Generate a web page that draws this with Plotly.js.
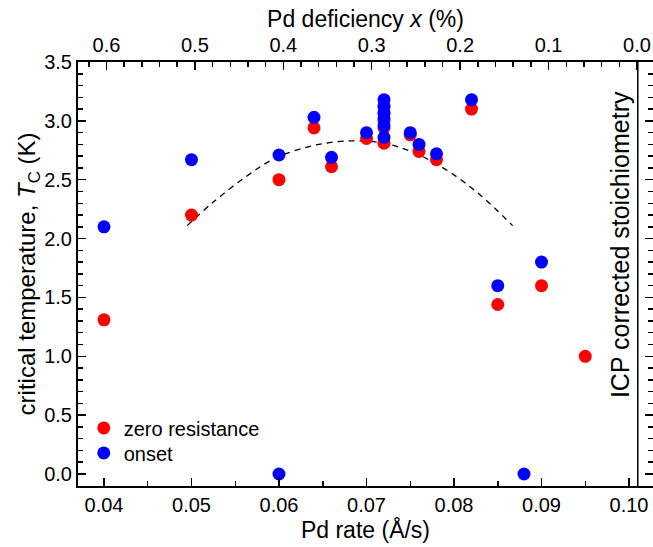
<!DOCTYPE html>
<html><head><meta charset="utf-8">
<script src="https://cdn.plot.ly/plotly-3.0.1.min.js"></script>
<style>html,body{margin:0;padding:0;background:#fff}</style>
</head><body><div id="chart" style="width:653px;height:547px"></div>
<script>
// Pd rate (Å/s) and critical temperature (K)
const zeroX = [0.040, 0.050, 0.060, 0.064, 0.066, 0.070, 0.072, 0.072, 0.072, 0.072, 0.072, 0.075, 0.076, 0.078, 0.082, 0.085, 0.090, 0.095];
const zeroY = [1.31, 2.20, 2.50, 2.94, 2.61, 2.85, 3.13, 3.06, 3.00, 2.94, 2.81, 2.88, 2.74, 2.67, 3.10, 1.44, 1.60, 1.00];
const onsetX = [0.040, 0.050, 0.060, 0.060, 0.064, 0.066, 0.070, 0.072, 0.072, 0.072, 0.072, 0.072, 0.072, 0.075, 0.076, 0.078, 0.082, 0.085, 0.088, 0.090];
const onsetY = [2.10, 2.67, 2.71, 0.00, 3.03, 2.69, 2.90, 3.18, 3.12, 3.07, 3.02, 2.96, 2.86, 2.90, 2.80, 2.72, 3.18, 1.60, 0.00, 1.80];
// dashed guide curve
const fitX = [0.0495, 0.0525, 0.0563, 0.0595, 0.0639, 0.0681, 0.0720, 0.0754, 0.0792, 0.0830, 0.0867];
const fitY = [2.11, 2.31, 2.53, 2.68, 2.79, 2.83, 2.81, 2.73, 2.58, 2.37, 2.11];
// ICP corrected stoichiometry position
const icpRate = 0.101;
const bottomTicks = [0.04, 0.05, 0.06, 0.07, 0.08, 0.09, 0.10];
const bottomTickText = ['0.04', '0.05', '0.06', '0.07', '0.08', '0.09', '0.10'];
const topTicks = [0.6, 0.5, 0.4, 0.3, 0.2, 0.1, 0.0];
const topTickText = ['0.6', '0.5', '0.4', '0.3', '0.2', '0.1', '0.0'];

const FONT = 'Liberation Sans, Arial, sans-serif';

const traces = [
  {x: fitX, y: fitY, mode: 'lines', line: {color: '#000', width: 1.3, dash: '6px,5px', shape: 'spline'}, showlegend: false, hoverinfo: 'skip'},
  {x: zeroX, y: zeroY, mode: 'markers', name: 'zero resistance', legend: 'legend', marker: {color: '#ff0000', size: 13}},
  {x: onsetX, y: onsetY, mode: 'markers', name: 'onset', legend: 'legend2', marker: {color: '#0000ff', size: 13}},
  {x: [0.5], y: [null], xaxis: 'x2', yaxis: 'y', mode: 'markers', showlegend: false, hoverinfo: 'skip'}
];

const axCommon = {
  showline: true, linecolor: '#000', linewidth: 2,
  ticks: 'inside', ticklen: 8, tickwidth: 1.5, tickcolor: '#000',
  showgrid: false, zeroline: false,
  tickfont: {family: FONT, size: 20, color: '#000'}
};

const legendCommon = {x: 0.01, xanchor: 'left', yanchor: 'top', bgcolor: 'rgba(0,0,0,0)', font: {family: FONT, size: 20, color: '#000'}, itemwidth: 30};

const layout = {
  width: 653, height: 547,
  margin: {l: 78, r: 0, t: 62, b: 61},
  paper_bgcolor: '#fff', plot_bgcolor: '#fff',
  font: {family: FONT, color: '#000'},
  showlegend: true,
  legend: Object.assign({}, legendCommon, {y: 0.183}),
  legend2: Object.assign({}, legendCommon, {y: 0.124}),
  xaxis: Object.assign({}, axCommon, {
    range: [0.03703, 0.10274], tickvals: bottomTicks, ticktext: bottomTickText,
    minor: {dtick: 0.005, ticks: 'inside', ticklen: 5, tickwidth: 1.5, tickcolor: '#000'},
    title: {text: 'Pd rate (Å/s)', font: {family: FONT, size: 23, color: '#000'}, standoff: 0}
  }),
  xaxis2: Object.assign({}, axCommon, {
    overlaying: 'x', side: 'top', anchor: 'y',
    range: [0.6322, -0.0181], tickvals: topTicks, ticktext: topTickText,
    minor: {dtick: 0.02, ticks: 'inside', ticklen: 5, tickwidth: 1.5, tickcolor: '#000'},
    title: {text: 'Pd deficiency <i>x</i> (%)', font: {family: FONT, size: 23, color: '#000'}, standoff: 0}
  }),
  yaxis: Object.assign({}, axCommon, {
    range: [-0.102, 3.5], dtick: 0.5, tick0: 0, tickformat: '.1f', mirror: 'ticks',
    minor: {dtick: 0.1, ticks: 'inside', ticklen: 5, tickwidth: 1.5, tickcolor: '#000'},
    title: {text: 'critical temperature, <i>T</i><sub>C</sub> (K)', font: {family: FONT, size: 24, color: '#000'}, standoff: 2}
  }),
  shapes: [
    {type: 'line', xref: 'x', yref: 'paper', x0: icpRate, x1: icpRate, y0: 0, y1: 1, line: {color: '#000', width: 1.5}}
  ],
  annotations: [
    {xref: 'x', yref: 'paper', x: icpRate, y: 0.57, xanchor: 'right', yanchor: 'middle', xshift: -1,
     text: 'ICP corrected stoichiometry', textangle: -90, showarrow: false,
     font: {family: FONT, size: 25, color: '#000'}}
  ]
};

Plotly.newPlot('chart', traces, layout, {displayModeBar: false, staticPlot: true});
</script>
</body></html>
